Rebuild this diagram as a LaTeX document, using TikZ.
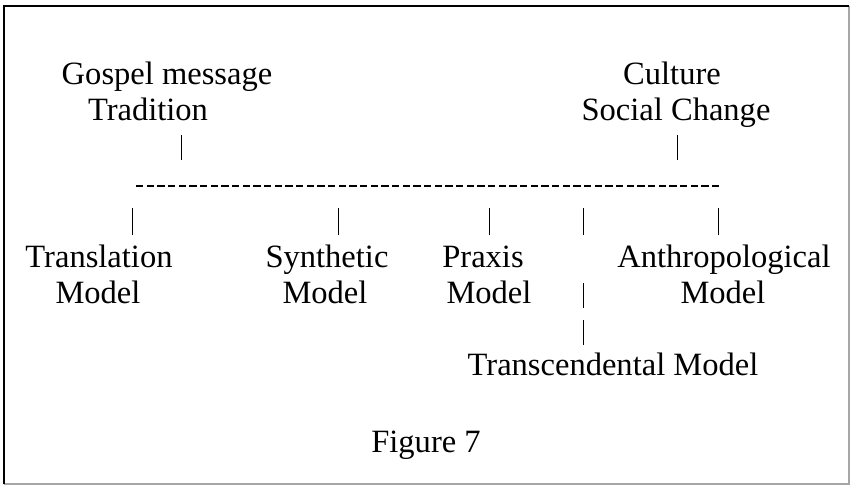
\documentclass[tikz,border=0pt]{standalone}
\usepackage{fontspec}
\setmainfont{Liberation Serif}
\usepackage{tikz}

\begin{document}
\begin{tikzpicture}[x=0.75pt, y=-0.75pt,
    lbl/.style={anchor=base, inner sep=0pt, font=\fontsize{24.4}{26}\selectfont},
    tick/.style={black, line width=0.7pt}]
                \useasboundingbox (0,0) rectangle (852,486);
                % frame
                \draw[gray!70, line width=1.2pt] (849,6) -- (849,484) -- (4,484);
                \draw[black, line width=1.6pt] (4,484) -- (4,6) -- (849,6);
                % top labels
                \node[lbl] (gospel) at (167,84) {Gospel message};
                \node[lbl] (trad) at (148,120) {Tradition};
                \node[lbl] (culture) at (672,84) {Culture};
                \node[lbl] (social) at (676,120) {Social Change};
                % bar
                \coordinate (L) at (136,186);
                \coordinate (R) at (719,186);
                \draw[line width=1.1pt, dash pattern=on 5.6pt off 2.4pt] (L) -- (R);
                % models
                \node[lbl] (transl) at (99,267) {Translation};
                \node[lbl] (translm) at (98,303) {Model};
                \node[lbl] (synth) at (327,267) {Synthetic};
                \node[lbl] (synthm) at (325,303) {Model};
                \node[lbl] (praxis) at (483,267) {Praxis};
                \node[lbl] (praxism) at (489,303) {Model};
                \node[lbl] (anthro) at (724,267) {Anthropological};
                \node[lbl] (anthrom) at (723,303) {Model};
                \node[lbl] (transc) at (613,375) {Transcendental Model};
                \node[lbl] (fig) at (426,452) {Figure 7};
                % ticks
                \draw[tick] (181,135) coordinate (T1) -- (181,160) coordinate (T2);
                \draw[tick] (677,135) coordinate (C1) -- (677,160) coordinate (C2);
                \foreach \x/\n in {132/a, 338/b, 489/c, 583/d, 718/e}
                    \draw[tick] (\x,208) coordinate (\n1) -- (\x,235) coordinate (\n2);
                \draw[tick] (583,283) coordinate (d3) -- (583,308) coordinate (d4);
                \draw[tick] (583,320) coordinate (d5) -- (583,345) coordinate (d6);
            \end{tikzpicture}
\end{document}
